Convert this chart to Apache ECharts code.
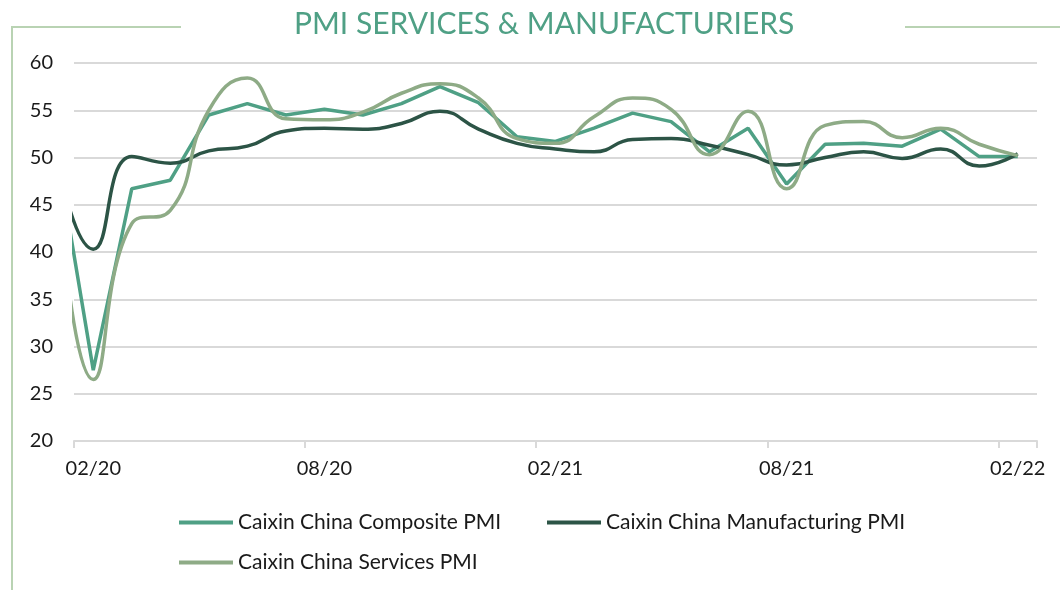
<!DOCTYPE html>
<html>
<head>
<meta charset="utf-8">
<script src="https://cdn.jsdelivr.net/npm/echarts@6/dist/echarts.min.js"></script>
<style>
  html, body { margin: 0; padding: 0; background: #fff; }
  #chart { width: 1060px; height: 590px; }
</style>
</head>
<body>
<div id="chart"></div>
<script>
// months, Jan 2020 .. Feb 2022 (Jan 2020 sits just left of the plot, only its segment shows)
const months = ['01/20','02/20','03/20','04/20','05/20','06/20','07/20','08/20','09/20','10/20','11/20','12/20',
  '01/21','02/21','03/21','04/21','05/21','06/21','07/21','08/21','09/21','10/21','11/21','12/21',
  '01/22','02/22'];

const composite = [51.9, 27.5, 46.7, 47.6, 54.5, 55.7, 54.5, 55.1, 54.5, 55.7, 57.5, 55.8,
  52.2, 51.7, 53.1, 54.7, 53.8, 50.6, 53.1, 47.2, 51.4, 51.5, 51.2, 53.0, 50.1, 50.1];
const manufacturing = [51.1, 40.3, 50.1, 49.4, 50.7, 51.2, 52.8, 53.1, 53.0, 53.6, 54.9, 53.0,
  51.5, 50.9, 50.6, 51.9, 52.0, 51.3, 50.3, 49.2, 50.0, 50.6, 49.9, 50.9, 49.1, 50.4];
const services = [51.8, 26.5, 43.0, 44.4, 55.0, 58.4, 54.1, 54.0, 54.8, 56.8, 57.8, 56.3,
  52.0, 51.5, 54.3, 56.3, 55.1, 50.3, 54.9, 46.7, 53.4, 53.8, 52.1, 53.1, 51.4, 50.2];

const yTicks = [20, 25, 30, 35, 40, 45, 50, 55, 60];

const names = ['Caixin China Composite PMI', 'Caixin China Manufacturing PMI', 'Caixin China Services PMI'];
const colors = ['#4fa085', '#2c5446', '#8eab86'];

const toXY = arr => arr.map((v, i) => [i, v]);

const chart = echarts.init(document.getElementById('chart'));
const font = 'Lato, "Open Sans", sans-serif';
const deco = '#b9d3b3';

const legendAt = (name, left, top) => ({
  data: [name], left: left, top: top,
  icon: 'rect', itemWidth: 54, itemHeight: 4,
  textStyle: { fontFamily: font, fontSize: 21, color: '#1a1a1a' }
});

chart.setOption({
  animation: false,
  title: {
    text: 'PMI SERVICES & MANUFACTURIERS',
    left: 289, top: 4,
    textStyle: { fontFamily: font, fontSize: 30, fontWeight: 'normal', color: '#4fa085' }
  },
  graphic: [
    { type: 'line', shape: { x1: 12, y1: 27, x2: 181, y2: 27 }, style: { stroke: deco, lineWidth: 2 } },
    { type: 'line', shape: { x1: 905, y1: 27, x2: 1060, y2: 27 }, style: { stroke: deco, lineWidth: 2 } },
    { type: 'line', shape: { x1: 12, y1: 26, x2: 12, y2: 590 }, style: { stroke: deco, lineWidth: 2 } }
  ],
  legend: [
    legendAt(names[0], 174, 507),
    legendAt(names[1], 542, 507),
    legendAt(names[2], 174, 547)
  ],
  grid: { left: 74, right: 23, top: 63, bottom: 149 },
  xAxis: [
    { type: 'value', min: 0.5, max: 25.5, show: false },
    {
      type: 'category', data: months.slice(1), boundaryGap: true, position: 'bottom',
      axisLine: { show: true, lineStyle: { color: '#d9d9d9', width: 2 } },
      axisTick: { show: true, interval: 5, length: 7, lineStyle: { color: '#d9d9d9', width: 2 } },
      axisLabel: { interval: 5, margin: 18, fontFamily: font, fontSize: 20, color: '#1a1a1a' },
      splitLine: { show: false }
    }
  ],
  yAxis: {
    type: 'value', min: yTicks[0], max: yTicks[yTicks.length - 1], interval: 5,
    axisLine: { show: false }, axisTick: { show: false },
    axisLabel: { margin: 21, fontFamily: font, fontSize: 20, color: '#1a1a1a' },
    splitLine: { lineStyle: { color: '#d9d9d9', width: 2 } }
  },
  series: [
    { name: names[0], type: 'line', xAxisIndex: 0, data: toXY(composite), smooth: false,
      showSymbol: false, clip: true, lineStyle: { color: colors[0], width: 3.5 }, itemStyle: { color: colors[0] } },
    { name: names[1], type: 'line', xAxisIndex: 0, data: toXY(manufacturing), smooth: 0.5,
      showSymbol: false, clip: true, lineStyle: { color: colors[1], width: 3.5 }, itemStyle: { color: colors[1] } },
    { name: names[2], type: 'line', xAxisIndex: 0, data: toXY(services), smooth: 0.5,
      showSymbol: false, clip: true, lineStyle: { color: colors[2], width: 3.5 }, itemStyle: { color: colors[2] } }
  ]
});
</script>
</body>
</html>
